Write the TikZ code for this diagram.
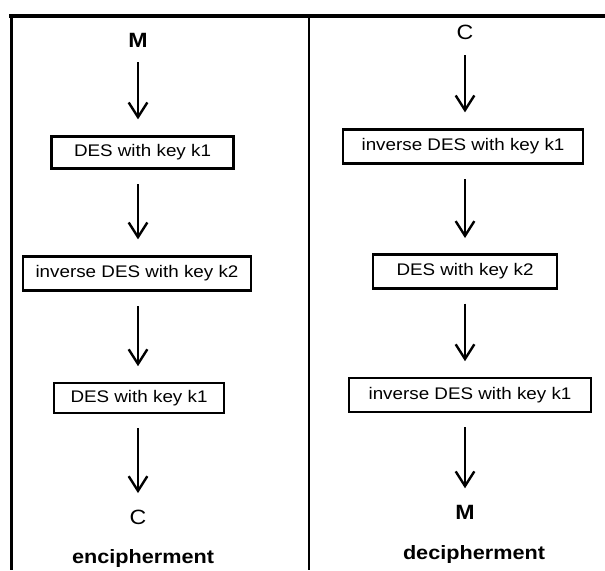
\documentclass[tikz,border=0pt]{standalone}
\usepackage{fontspec}
\setmainfont{Liberation Sans}[FakeStretch=1.12]
\usetikzlibrary{arrows.meta}

\tikzset{
  desbox/.style={draw, line width=2.2pt, inner sep=0.75pt, font=\fontsize{12.6}{14}\selectfont},
  msglabel/.style={inner sep=0.75pt, font=\fontsize{15.5}{17}\selectfont},
  modelabel/.style={inner sep=0.75pt, font=\fontsize{14.5}{16}\selectfont\bfseries},
  flow/.style={line width=1.6pt, -{Straight Barb[length=11pt,width=14pt,line width=1.8pt]},
    shorten <=10.5pt, shorten >=11.5pt},
}

\begin{document}
\begin{tikzpicture}[x=0.75pt,y=0.75pt,yscale=-1,xscale=1]
\useasboundingbox (0,0) rectangle (605,570);

%Frame
\draw [line width=2.4pt] (9,16) -- (605,16) ;
\draw [line width=2.6pt] (11.5,15) -- (11.5,570) ;
\draw [line width=1.9pt] (309,16) -- (309,570) ;

% encipherment column
\node [msglabel,font=\fontsize{15.5}{17}\selectfont\bfseries] (mIn) at (138,40) {M};
\node [desbox,minimum width=137pt,minimum height=24.5pt] (encA) at (142.5,152.5) {DES with key k1};
\node [desbox,minimum width=171pt,minimum height=26pt] (encB) at (137,273.5) {inverse DES with key k2};
\node [desbox,minimum width=127.5pt,minimum height=22.5pt] (encC) at (139,398) {DES with key k1};
\node [msglabel] (cOut) at (138,517) {C};
\node [modelabel] (enc) at (143,558) {encipherment};

\draw [flow] (mIn) -- (encA.north -| mIn) ;
\draw [flow] (encA.south -| mIn) -- (encB.north -| mIn) ;
\draw [flow] (encB.south -| mIn) -- (encC.north -| mIn) ;
\draw [flow] (encC.south -| mIn) -- (cOut) ;

% decipherment column
\node [msglabel] (cIn) at (465,32.5) {C};
\node [desbox,minimum width=180pt,minimum height=26pt] (decA) at (463,146.5) {inverse DES with key k1};
\node [desbox,minimum width=138pt,minimum height=25pt] (decB) at (465,271.5) {DES with key k2};
\node [desbox,minimum width=181.5pt,minimum height=25.5pt] (decC) at (470,395) {inverse DES with key k1};
\node [msglabel,font=\fontsize{15.5}{17}\selectfont\bfseries] (mOut) at (465,512) {M};
\node [modelabel] (dec) at (474,554) {decipherment};

\draw [flow] (cIn) -- (decA.north -| cIn) ;
\draw [flow] (decA.south -| cIn) -- (decB.north -| cIn) ;
\draw [flow] (decB.south -| cIn) -- (decC.north -| cIn) ;
\draw [flow] (decC.south -| cIn) -- (mOut) ;

\end{tikzpicture}
\end{document}
